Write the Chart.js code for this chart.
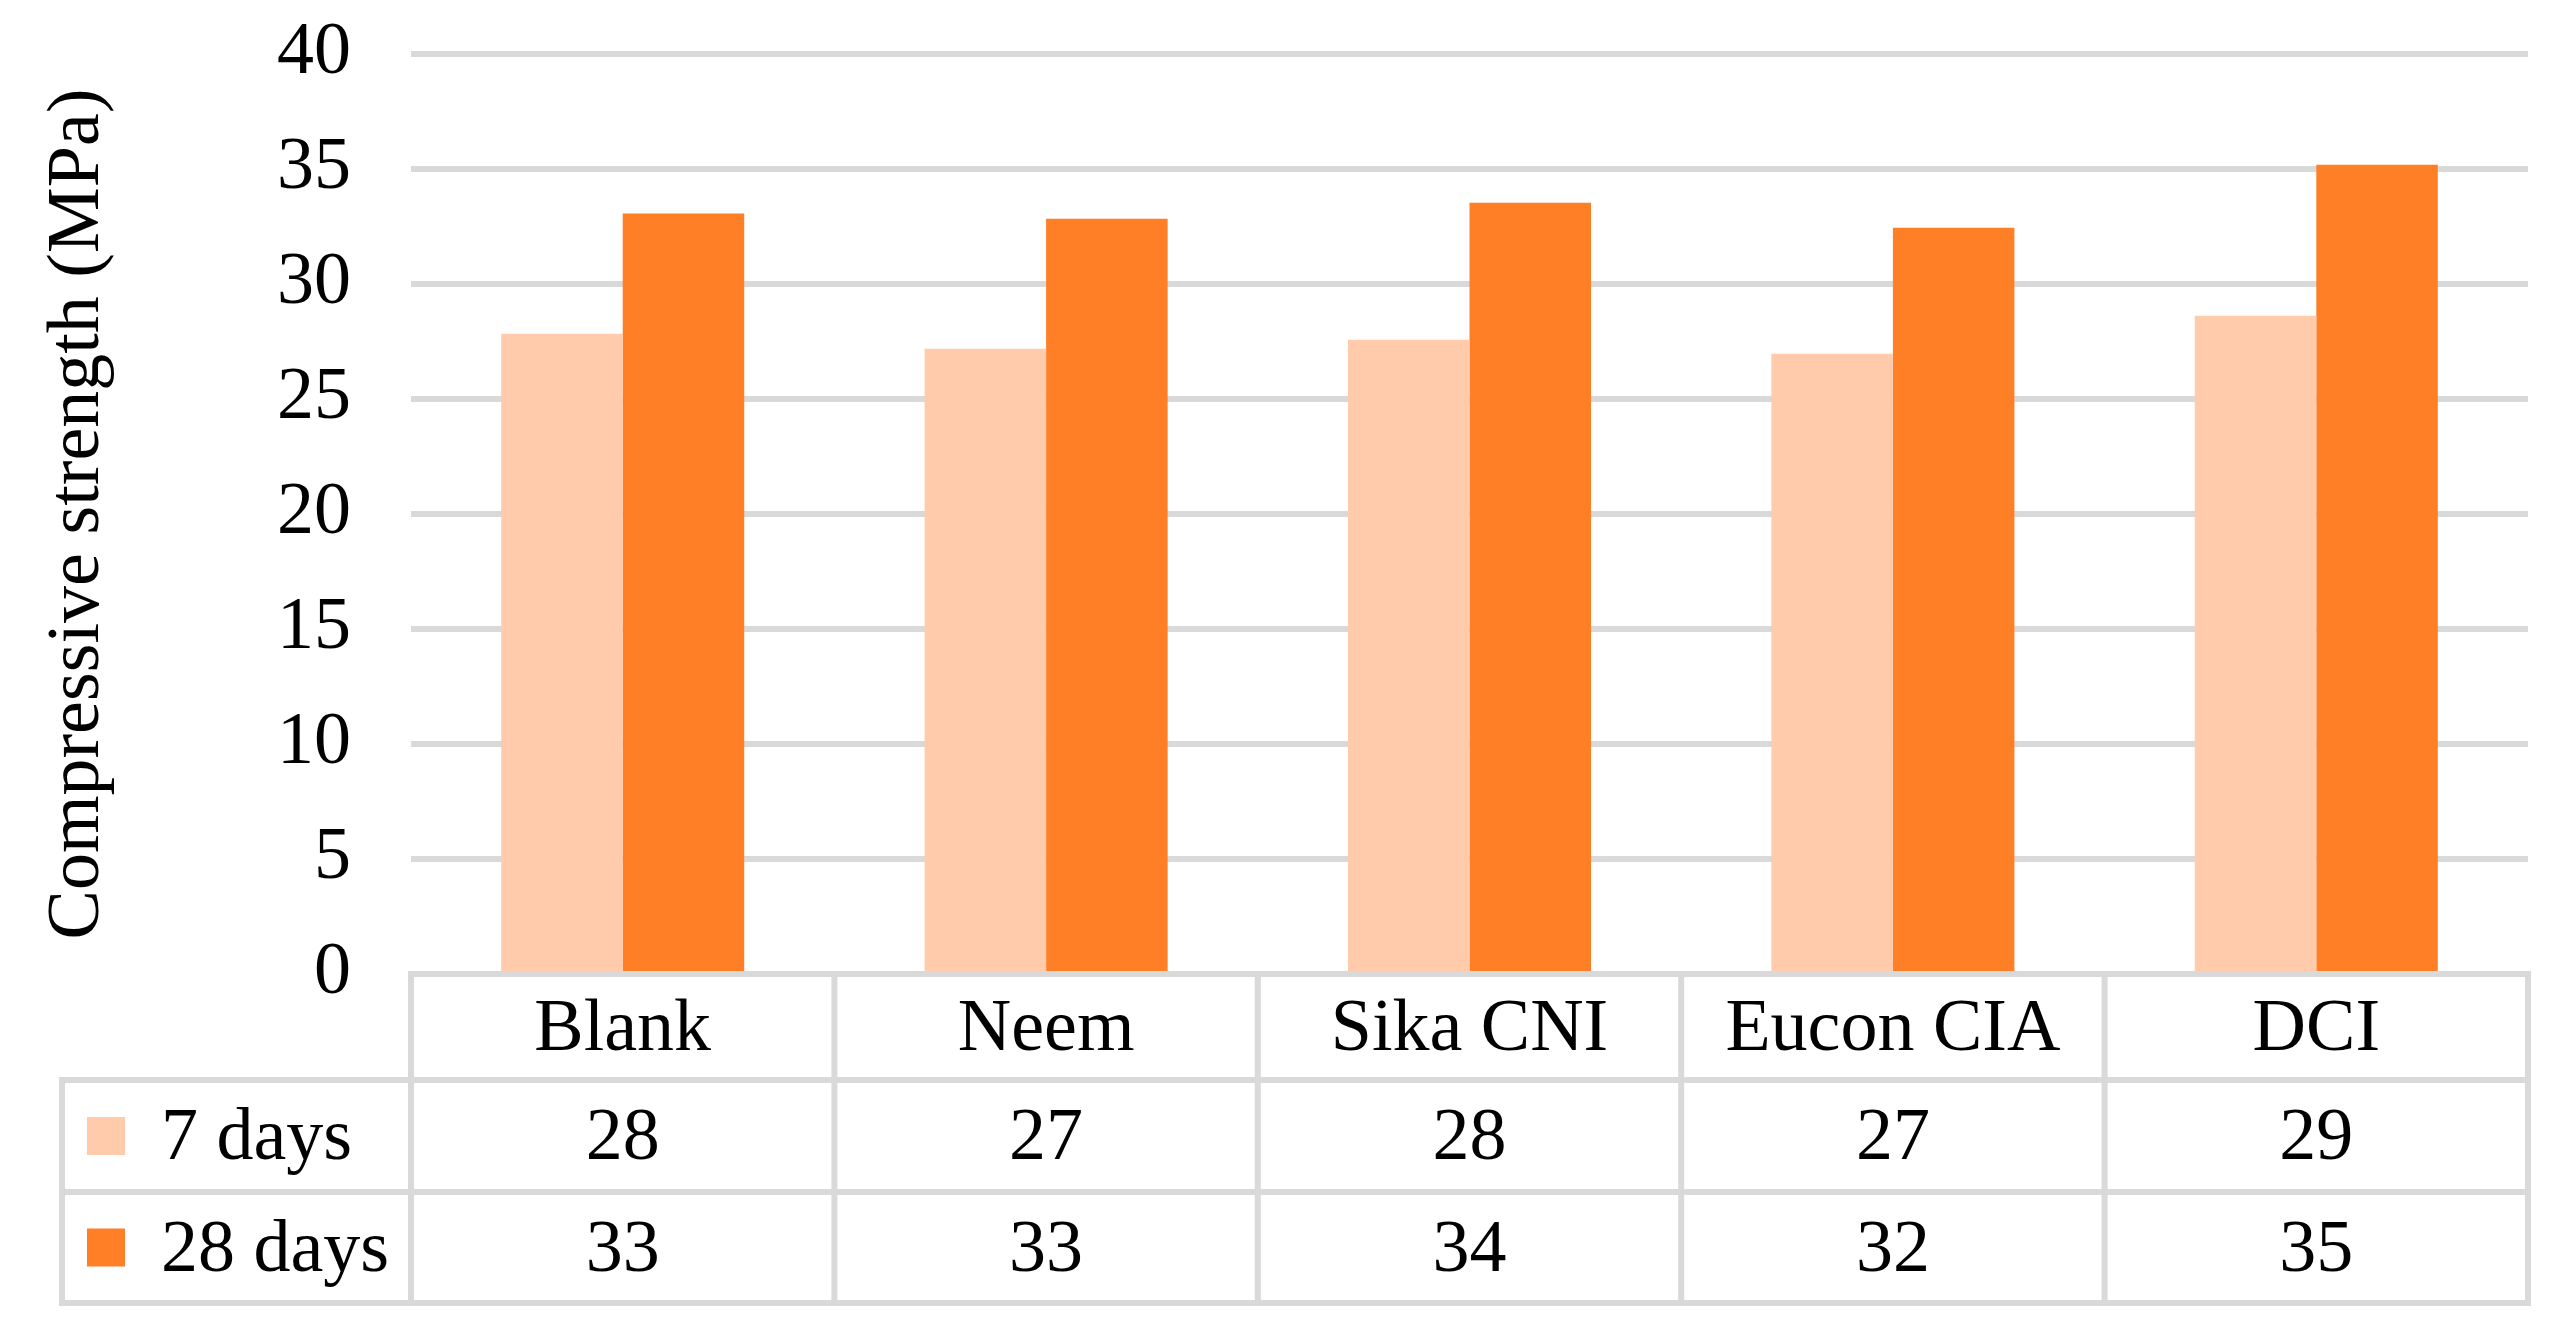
<!DOCTYPE html>
<html lang="en">
<head>
<meta charset="UTF-8">
<title>Compressive strength</title>
<style>
  body { margin: 0; background: #fff; }
  #wrap { width: 2575px; height: 1344px; }
</style>
</head>
<body>
<div id="wrap"><canvas id="chart" width="2575" height="1344"></canvas></div>
<script src="https://cdn.jsdelivr.net/npm/chart.js"></script>
<script>
const categories = ['Blank', 'Neem', 'Sika CNI', 'Eucon CIA', 'DCI'];
const seriesNames = ['7 days', '28 days'];
const days7 = [27.84, 27.19, 27.58, 26.97, 28.62];
const days28 = [33.06, 32.84, 33.53, 32.45, 35.19];
const colors = ['#FFCBAB', '#FF7F27'];

const FONT = 'Liberation Serif';
const FSIZE = 74;

// Excel-style data table under the plot, columns follow the x scale
const dataTable = {
    id: 'dataTable',
    afterDraw(chart) {
        const ctx = chart.ctx;
        const area = chart.chartArea;
        const xs = chart.scales.x;
        const rowH = [106, 112, 111];
        const keyLeft = 62;
        const top = area.bottom;
        const y1 = top + rowH[0], y2 = y1 + rowH[1], y3 = y2 + rowH[2];
        const colW = (area.right - area.left) / categories.length;

        ctx.save();
        ctx.strokeStyle = '#d9d9d9';
        ctx.lineWidth = 6;
        ctx.lineCap = 'square';
        ctx.beginPath();
        ctx.moveTo(area.left, top); ctx.lineTo(area.right, top);
        [y1, y2, y3].forEach(y => { ctx.moveTo(keyLeft, y); ctx.lineTo(area.right, y); });
        for (let i = 0; i <= categories.length; i++) {
            const x = area.left + colW * i;
            ctx.moveTo(x, top); ctx.lineTo(x, y3);
        }
        ctx.moveTo(keyLeft, y1); ctx.lineTo(keyLeft, y3);
        ctx.stroke();

        ctx.font = FSIZE + 'px "' + FONT + '"';
        ctx.textBaseline = 'middle';
        ctx.fillStyle = '#000';
        ctx.textAlign = 'center';
        categories.forEach((c, i) => ctx.fillText(c, xs.getPixelForValue(i), top + rowH[0] / 2 + 4));

        chart.data.datasets.forEach((ds, r) => {
            const yc = (r === 0 ? y1 : y2) + rowH[r + 1] / 2;
            ctx.fillStyle = '#000';
            ctx.textAlign = 'center';
            ds.data.forEach((v, i) => ctx.fillText(Math.round(v), xs.getPixelForValue(i), yc + 4));
            ctx.textAlign = 'left';
            ctx.fillText(ds.label, 161, yc + 4);
            ctx.fillStyle = ds.backgroundColor;
            ctx.fillRect(87, yc - 19, 38, 38);
        });
        ctx.restore();
    }
};

new Chart(document.getElementById('chart'), {
    type: 'bar',
    data: {
        labels: categories,
        datasets: [
            { label: seriesNames[0], data: days7, backgroundColor: colors[0] },
            { label: seriesNames[1], data: days28, backgroundColor: colors[1] }
        ]
    },
    options: {
        responsive: false,
        animation: false,
        layout: { padding: { top: 54, right: 47, bottom: 370, left: 0 } },
        datasets: { bar: { categoryPercentage: 0.574, barPercentage: 1 } },
        plugins: { legend: { display: false }, tooltip: { enabled: false } },
        scales: {
            x: { display: false, offset: true },
            y: {
                min: 0, max: 40,
                ticks: { stepSize: 5, padding: 60, color: '#000', font: { family: FONT, size: FSIZE } },
                grid: { color: '#d9d9d9', lineWidth: 6, drawTicks: false },
                border: { display: false },
                title: {
                    display: true, text: 'Compressive strength (MPa)', color: '#000',
                    font: { family: FONT, size: FSIZE }, padding: { top: 34, bottom: 0 }
                },
                afterFit(s) {
                    s.width = 411;
                    s.paddingTop = 0;
                    s.paddingBottom = 0;
                }
            }
        }
    },
    plugins: [dataTable]
});
</script>
</body>
</html>
